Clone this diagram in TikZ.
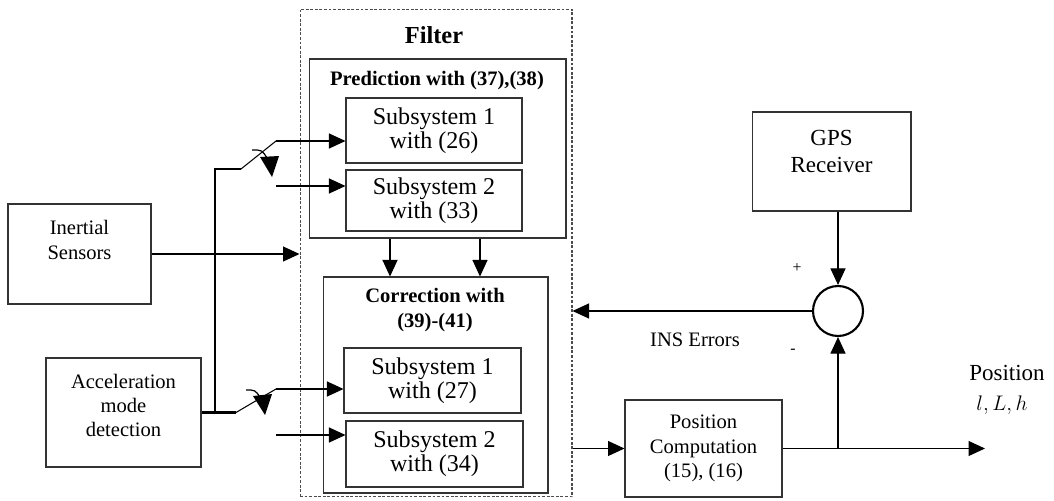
\documentclass[tikz,border=0pt]{standalone}
\usepackage{fontspec}
\setmainfont{Liberation Serif}
\usetikzlibrary{arrows.meta}
\usetikzlibrary{positioning}

\begin{document}
\begin{tikzpicture}[x=0.02cm, y=-0.02cm,
        blk/.style={draw=black!80, line width=0.6pt, inner sep=0pt, align=center},
        txt/.style={inner sep=0pt, align=center, font=\fontsize{11.7}{13.9}\selectfont},
        subtxt/.style={font=\fontsize{13.7}{12.2}\selectfont},
        ttl/.style={inner sep=0pt, align=center, font=\fontsize{11.7}{14.2}\selectfont\bfseries},
        arr/.style={line width=0.6pt, -{Triangle[length=0.33cm, width=0.3cm]}},
        wire/.style={line width=1.2pt}]
        \useasboundingbox (0,0) rectangle (1054,500);

        % Sensor blocks on the left
        \node[blk, minimum width=2.86cm, minimum height=2.0cm] (ins) at (79.5,254) {};
        \node[txt] at ([yshift=0.28cm]ins.center) {Inertial\\Sensors};
        \node[blk, txt, minimum width=3.10cm, minimum height=2.18cm] (acc) at (123.5,412.5)
            {Acceleration\\mode\\detection\\[-0.2cm]};

        % Filter with prediction and correction stages
        \node[draw=black!70, dash pattern=on 1.6pt off 1pt, line width=0.6pt,
              minimum width=5.44cm, minimum height=9.76cm] (filt) at (436,253) {};
        \node[ttl, font=\fontsize{13.9}{16}\selectfont\bfseries] (ftitle) at (434,35) {Filter};

        \node[blk, minimum width=5.14cm, minimum height=3.58cm] (pred) at (437.5,148.5) {};
        \node[ttl] (ptitle) at (437,81) {Prediction with (37),(38)};
        \node[blk, subtxt, minimum width=3.52cm, minimum height=1.30cm] (sp1) at (434,130.5)
            {Subsystem 1\\with (26)};
        \node[blk, subtxt, minimum width=3.52cm, minimum height=1.22cm] (sp2) at (434,200.5)
            {Subsystem 2\\with (33)};

        \node[blk, minimum width=4.50cm, minimum height=4.32cm] (corr) at (435.5,385) {};
        \node[ttl] (ctitle) at (435,310.5) {Correction with\\(39)-(41)};
        \node[blk, subtxt, minimum width=3.54cm, minimum height=1.30cm] (sc1) at (432.5,380.5)
            {Subsystem 1\\with (27)};
        \node[blk, subtxt, minimum width=3.54cm, minimum height=1.32cm] (sc2) at (434.5,454)
            {Subsystem 2\\with (34)};

        % GPS, comparator and position computation
        \node[blk, minimum width=3.18cm, minimum height=1.98cm] (gps) at (831.5,161.5) {};
        \node[txt, font=\fontsize{13.1}{15.4}\selectfont] at ([yshift=0.2cm]gps.center) {GPS\\Receiver};
        \node[draw, circle, line width=1.2pt, minimum size=1cm, inner sep=0pt] (sum) at (838,311) {};
        \node[blk, txt, minimum width=3.14cm, minimum height=1.94cm] (pos) at (703.5,448.5)
            {Position\\Computation\\(15), (16)};
        \coordinate (out) at (985,448.5);

        % Switch contacts
        \coordinate (jt) at (215,169);
        \coordinate (jn) at (215,412.5);
        \coordinate (sw1a) at (241,169);
        \coordinate (sw1b) at (276,141);
        \coordinate (sw1c) at (276,186);
        \coordinate (sw2a) at (236,412.5);
        \coordinate (sw2b) at (276,389);
        \coordinate (sw2c) at (276,435);

        % Mode line and switches
        \draw[wire] (acc.east) -- (sw2a);
        \draw[wire] (jn) -- (jt) -- (sw1a);
        \draw[line width=0.6pt] (sw1a) -- (sw1b);
        \draw[line width=0.6pt] (sw2a) -- (sw2b);
        % switch actuation marks
        \draw[line width=0.7pt] (252,150) .. controls (262,150) .. (267,158);
        \fill[black] (260,157) -- (279,156) -- (272,177) -- cycle;
        \draw[line width=0.7pt] (246,390) .. controls (255,390) .. (260,397);
        \fill[black] (253,396) -- (272,394) -- (265,415) -- cycle;
        \draw[arr] (sw1b) -- (sw1b -| sp1.west);
        \draw[arr] (sw1c) -- (sw1c -| sp2.west);
        \draw[arr] (sw2b) -- (sw2b -| sc1.west);
        \draw[arr] (sw2c) -- (sw2c -| sc2.west);

        % Signal flow
        \draw[arr] (ins.east) -- (ins.east -| filt.west);
        \draw[arr] ([xshift=-0.95cm]pred.south) -- ([xshift=-0.95cm]pred.south |- corr.north);
        \draw[arr] ([xshift=0.85cm]pred.south) -- ([xshift=0.85cm]pred.south |- corr.north);
        \draw[arr] (filt.east |- pos.west) -- (pos.west);
        \draw[arr] (pos.east) -- (out);
        \draw[arr] (pos.east -| sum) -- (sum.south);
        \draw[arr] (gps.south -| sum) -- (sum.north);
        \draw[arr] (sum.west) -- (sum.west -| filt.east);

        % Labels
        \node[inner sep=0pt, font=\fontsize{9}{10}\selectfont] (plus) at (797,268) {+};
        \node[inner sep=0pt, font=\fontsize{9}{10}\selectfont] (minus) at (793,351) {-};
        \node[txt] (err) at (695,340) {INS Errors};
        \node[txt, font=\fontsize{13.1}{15}\selectfont] (posl) at (1007,373) {Position};
        \node[txt, font=\fontsize{13.1}{15}\selectfont] (posv) at (1002,405) {$l, L, h$};
\end{tikzpicture}
\end{document}
